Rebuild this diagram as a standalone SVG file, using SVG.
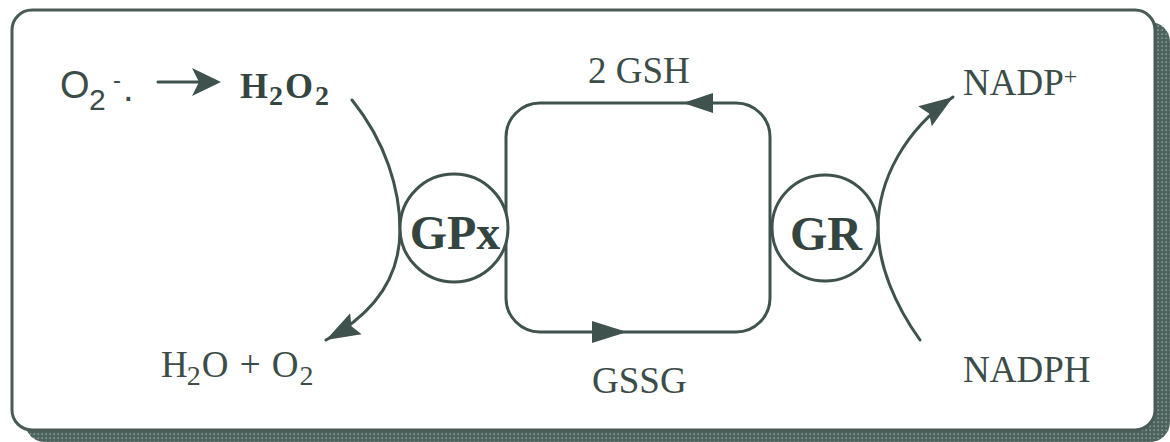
<svg xmlns="http://www.w3.org/2000/svg" width="1170" height="442" viewBox="0 0 1170 442">
<defs>
<pattern id="dots" width="4" height="4" patternUnits="userSpaceOnUse">
<rect width="4" height="4" fill="#4f635e"/>
<rect x="1.5" y="1.5" width="1.3" height="1.3" fill="#a7b5b1"/>
</pattern>
<marker id="head" markerWidth="36" markerHeight="28" refX="34" refY="14" orient="auto" markerUnits="userSpaceOnUse">
<path d="M0,2 L34,14 L0,26 L5,14 Z" fill="#3f524e"/>
</marker>
</defs>
<style>
.ln{fill:none;stroke:#3f524e;stroke-width:3;stroke-linecap:round}
.t{font-family:"Liberation Serif","Times New Roman",serif;font-size:37px;fill:#3c4c48}
.s{font-family:"Liberation Sans",Arial,sans-serif;fill:#3c4c48}
.b{font-family:"Liberation Serif","Times New Roman",serif;font-weight:bold;fill:#34453f}
.ah{fill:#3f524e}
</style>
<rect width="1170" height="442" fill="#ffffff"/>
<g id="frame">
<rect x="25" y="22" width="1145" height="420" rx="20" fill="url(#dots)"/>
<rect x="12" y="10" width="1143" height="420" rx="20" fill="#ffffff" stroke="#4a5b57" stroke-width="3"/>
</g>
<g id="connectors">
<path class="ln" d="M158,82 L200,82"/>
<polygon class="ah" points="221,82 192,68 199,82 192,96"/>
<path class="ln" d="M352,100 C386,142 400,190 400,230 C400,280 372,315 326,340" marker-end="url(#head)"/>
<path class="ln" d="M920,340 C895,305 878,265 878,228 C878,180 905,130 953,97" marker-end="url(#head)"/>
<path class="ln" d="M540,103 L736,103 A34,34 0 0 1 770,137 L770,298 A34,34 0 0 1 736,332 L540,332 A34,34 0 0 1 506,298 L506,137 A34,34 0 0 1 540,103 Z"/>
<polygon class="ah" points="683,103 713,93 713,113"/>
<polygon class="ah" points="627,332 592,321 592,343"/>
</g>
<g id="superoxide">
<text class="s" font-size="38" x="60" y="98">O<tspan font-size="30" x="89" y="110">2</tspan><tspan font-size="24" x="113" y="88">-</tspan><tspan x="123" y="101">.</tspan></text>
</g>
<g id="h2o2">
<text class="b" font-size="36" x="240" y="98" letter-spacing="2">H<tspan font-size="28" dy="7" dx="-1">2</tspan><tspan dy="-7">O</tspan><tspan font-size="28" dy="7">2</tspan></text>
</g>
<g id="h2o_o2">
<text class="t" x="161" y="377" letter-spacing="1">H<tspan font-size="28" dy="8" dx="-2">2</tspan><tspan dy="-8">O + O</tspan><tspan font-size="28" dy="8">2</tspan></text>
</g>
<g id="gpx">
<circle cx="454" cy="228" r="54" fill="#ffffff" stroke="#3f524e" stroke-width="3"/>
<text class="b" font-size="48" x="455" y="249" text-anchor="middle">GPx</text>
</g>
<g id="gr">
<circle cx="825" cy="228" r="53" fill="#ffffff" stroke="#3f524e" stroke-width="3"/>
<text class="b" font-size="48" x="826" y="250" text-anchor="middle">GR</text>
</g>
<g id="gsh">
<text class="t" x="588" y="83">2 GSH</text>
</g>
<g id="gssg">
<text class="t" x="592" y="393">GSSG</text>
</g>
<g id="nadp">
<text class="t" x="963" y="95">NADP<tspan font-size="24" dy="-11">+</tspan></text>
</g>
<g id="nadph">
<text class="t" x="963" y="382">NADPH</text>
</g>
</svg>
